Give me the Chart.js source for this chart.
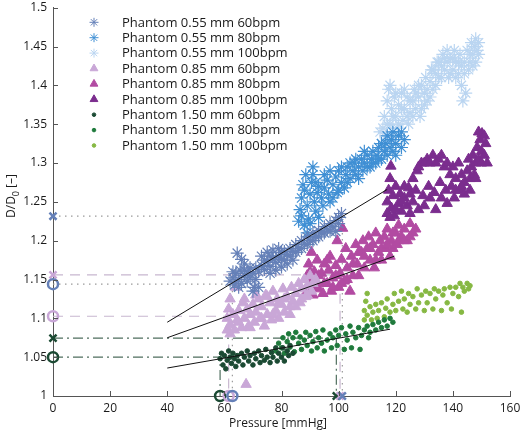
<!DOCTYPE html>
<html><head><meta charset="utf-8">
<script src="https://cdn.jsdelivr.net/npm/chart.js@4"></script>
<style>html,body{margin:0;padding:0;background:#fff}#wrap{width:520px;height:433px;position:relative}</style>
</head><body><div id="wrap"><canvas id="c" width="520" height="433"></canvas></div>
<script>
// ---------- DATA ----------
const seriesLabels = [
  'Phantom 0.55 mm 60bpm','Phantom 0.55 mm 80bpm','Phantom 0.55 mm 100bpm',
  'Phantom 0.85 mm 60bpm','Phantom 0.85 mm 80bpm','Phantom 0.85 mm 100bpm',
  'Phantom 1.50 mm 60bpm','Phantom 1.50 mm 80bpm','Phantom 1.50 mm 100bpm'
];
const xTicks = [0,20,40,60,80,100,120,140,160];
const yTicks = [1,1.05,1.1,1.15,1.2,1.25,1.3,1.35,1.4,1.45,1.5];

const s055_60 = [[62,1.148],[63,1.152],[63.5,1.143],[64,1.158],[65,1.150],[65.5,1.162],[66,1.145],[67,1.155],[68,1.16],[68,1.148],[69,1.152],[70,1.158],[70.5,1.14],[71,1.165],[72,1.16],[73,1.168],[74,1.163],[75,1.172],[76,1.167],[77,1.176],[78,1.172],[79,1.18],[80,1.176],[81,1.186],[82,1.182],[83,1.19],[84,1.186],[85,1.195],[86,1.19],[87,1.2],[88,1.196],[89,1.205],[90,1.2],[91,1.21],[92,1.205],[93,1.213],[94,1.21],[95,1.218],[96,1.214],[97,1.222],[98,1.218],[99,1.226],[100,1.23],[101,1.235],[99,1.212],[73,1.18],[75,1.185],[77,1.188],[79,1.19],[80,1.185],[76,1.158],[78,1.162],[80,1.166],[82,1.17],[84,1.175],[64.5,1.184],[66,1.176],[67,1.17],[70,1.135],[72,1.14],
  [63,1.16],[65,1.14],[67,1.162],[69,1.165],[71,1.15],[74,1.175],[76,1.18],[78,1.178],[81,1.175],[83,1.18],[85,1.185],[87,1.19],[89,1.195],[91,1.2],[93,1.205],[95,1.21],[97,1.212],[100,1.222]];
const s055_80 = [[86,1.225],[86.5,1.24],[87,1.255],[87,1.232],[88,1.22],[88,1.265],[89,1.245],[89.5,1.228],[90,1.26],[90.5,1.275],[91,1.285],[91.5,1.25],[92,1.238],[92.5,1.262],[93,1.27],[94,1.255],[94.5,1.245],[95,1.268],[96,1.278],[96.5,1.26],[97,1.25],[98,1.272],[99,1.282],[99.5,1.262],[100,1.29],[101,1.275],[102,1.268],[102.5,1.285],[103,1.295],[104,1.28],[105,1.29],[105.5,1.3],[106,1.285],[107,1.295],[108,1.305],[108.5,1.29],[109,1.3],[110,1.31],[111,1.295],[111.5,1.305],[112,1.315],[113,1.3],[113.5,1.31],[114,1.32],[115,1.305],[116,1.315],[116.5,1.325],[117,1.31],[118,1.32],[118.5,1.33],[119,1.315],[120,1.325],[121,1.335],[122,1.32],[123,1.33],
  [87.5,1.272],[88.5,1.285],[89,1.21],[90,1.222],[91,1.295],[92,1.275],[93,1.23],[95,1.285],[97,1.29],[98,1.255],[100,1.265],[101,1.295],[103,1.275],[104,1.3],[106,1.305],[107,1.28],[109,1.315],[110,1.295],[112,1.3],[114,1.305],[115,1.325],[117,1.335],[119,1.34],[120,1.31],[122,1.34]];
const s055_100 = [[115,1.325],[115.5,1.345],[116,1.36],[116.5,1.335],[117,1.38],[117.5,1.395],[118,1.35],[118.5,1.37],[119,1.33],[119.5,1.385],[120,1.36],[120.5,1.345],[121,1.375],[122,1.39],[122.5,1.355],[123,1.37],[124,1.385],[124.5,1.35],[125,1.365],[126,1.38],[126.5,1.395],[127,1.37],[128,1.385],[128.5,1.36],[129,1.4],[130,1.39],[130.5,1.41],[131,1.38],[132,1.405],[132.5,1.42],[133,1.395],[134,1.415],[134.5,1.43],[135,1.41],[136,1.425],[136.5,1.44],[137,1.42],[138,1.43],[138.5,1.41],[139,1.435],[140,1.42],[140.5,1.445],[141,1.43],[142,1.415],[142.5,1.44],[143,1.4],[143.5,1.38],[144,1.43],[144.5,1.39],[145,1.445],[145.5,1.42],[146,1.43],[146.5,1.455],[147,1.44],[147.5,1.45],[148,1.46],[148.5,1.445],[149,1.455],
  [114.5,1.34],[116,1.32],[117,1.35],[118,1.4],[119,1.36],[120,1.39],[121,1.35],[122,1.37],[123,1.395],[124,1.36],[125,1.38],[126,1.36],[127,1.39],[128,1.4],[129,1.37],[130,1.375],[131,1.395],[132,1.385],[133,1.42],[134,1.4],[135,1.43],[136,1.41],[137,1.435],[138,1.445],[139,1.415],[140,1.435],[141,1.41],[142,1.43],[143,1.425],[144,1.415],[146,1.44],[147,1.425],[149,1.44],[148,1.43]];
const s085_60 = [[61,1.085],[61,1.1],[61.5,1.112],[62,1.092],[62,1.125],[63,1.105],[63.5,1.085],[64,1.14],[64.5,1.098],[65,1.11],[66,1.088],[66.5,1.12],[67,1.1],[68,1.112],[68.5,1.09],[69,1.105],[70,1.118],[70.5,1.095],[71,1.108],[72,1.125],[72.5,1.1],[73,1.115],[74,1.09],[74.5,1.13],[75,1.105],[76,1.12],[76.5,1.098],[77,1.135],[78,1.11],[78.5,1.125],[79,1.1],[80,1.118],[80.5,1.138],[81,1.108],[82,1.128],[83,1.115],[83.5,1.14],[84,1.122],[85,1.132],[86,1.145],[86.5,1.12],[87,1.138],[88,1.15],[88.5,1.128],[89,1.142],[90,1.155],[90.5,1.135],[67.6,1.015],
  [62,1.08],[65,1.095],[67,1.125],[69,1.088],[71,1.13],[73,1.1],[75,1.128],[77,1.105],[79,1.12],[81,1.125],[83,1.105],[85,1.115],[87,1.125],[89,1.13],[91,1.145],[92,1.15]];
const s085_80 = [[89,1.135],[89,1.155],[89.5,1.17],[90,1.145],[90.5,1.185],[91,1.13],[91.5,1.16],[92,1.148],[92.5,1.175],[93,1.138],[94,1.158],[94.5,1.132],[95,1.17],[96,1.145],[96.5,1.162],[97,1.18],[97.5,1.135],[98,1.152],[99,1.168],[99.5,1.2],[100,1.14],[100.5,1.158],[101,1.176],[101.4,1.216],[102,1.148],[102.5,1.19],[103,1.165],[104,1.135],[104.5,1.18],[105,1.155],[106,1.195],[106.5,1.17],[107,1.155],[108,1.185],[108.5,1.2],[109,1.165],[110,1.19],[110.5,1.205],[111,1.175],[112,1.195],[112.5,1.165],[113,1.21],[114,1.185],[114.5,1.2],[115,1.175],[116,1.205],[116.5,1.19],[117,1.215],[118,1.18],[118.5,1.2],[119,1.19],[120,1.21],[120.5,1.195],[121,1.22],[122,1.205],[123,1.215],[124,1.2],[125,1.222],[126,1.21],[127,1.215],
  [90,1.16],[92,1.14],[93,1.155],[95,1.145],[96,1.175],[98,1.14],[99,1.155],[101,1.145],[103,1.15],[105,1.17],[107,1.185],[109,1.18],[111,1.19],[113,1.175],[115,1.19],[117,1.195],[119,1.21],[121,1.2],[123,1.2],[125,1.205]];
const s085_100 = [[117,1.235],[117,1.25],[117.5,1.265],[118,1.28],[118.3,1.296],[118.5,1.242],[119,1.258],[119.5,1.232],[120,1.27],[121,1.248],[121.5,1.26],[122,1.238],[123,1.255],[124,1.245],[124.5,1.268],[125,1.235],[126,1.25],[127,1.265],[127.5,1.29],[128,1.24],[129,1.3],[129.5,1.258],[130,1.245],[131,1.305],[131.5,1.27],[132,1.255],[133,1.31],[133.5,1.262],[134,1.24],[135,1.305],[135.5,1.275],[136,1.255],[137,1.295],[137.5,1.265],[138,1.248],[139,1.285],[139.5,1.27],[140,1.295],[140.5,1.255],[141,1.28],[142,1.3],[142.5,1.265],[143,1.285],[144,1.275],[145,1.29],[145.5,1.305],[146,1.28],[146.5,1.295],[147,1.31],[147.5,1.285],[148,1.3],[148.5,1.32],[149,1.305],[149.5,1.33],[150,1.315],[150.2,1.338],[151,1.31],[151.5,1.325],[152,1.3],
  [118,1.23],[120,1.24],[122,1.25],[123,1.27],[125,1.26],[126,1.28],[128,1.295],[130,1.3],[132,1.3],[134,1.3],[136,1.31],[138,1.3],[141,1.265],[143,1.27],[144,1.26],[146,1.265],[148,1.28],[150,1.3],[149,1.34],[151,1.335]];
const s150_60 = [[58.5,1.048],[59,1.055],[59.5,1.04],[60,1.052],[60.5,1.035],[61,1.046],[61.5,1.058],[62,1.05],[62.5,1.042],[63,1.055],[63.5,1.048],[64,1.038],[64.5,1.052],[65,1.045],[66,1.055],[66.5,1.04],[67,1.05],[68,1.058],[68.5,1.045],[69,1.052],[70,1.04],[70.5,1.055],[71,1.048],[72,1.058],[72.5,1.043],[73,1.052],[74,1.046],[74.5,1.06],[75,1.05],[76,1.043],[76.5,1.056],[77,1.05],[78,1.062],[78.5,1.045],[79,1.055],[80,1.05],[80.5,1.062],[81,1.045],[82,1.058],[82.5,1.052],[83,1.065],[84,1.055]];
const s150_80 = [[78,1.058],[79,1.068],[80,1.062],[80.5,1.075],[81,1.055],[82,1.07],[82.5,1.08],[83,1.063],[84,1.075],[84.5,1.057],[85,1.082],[86,1.068],[86.5,1.076],[87,1.06],[88,1.072],[88.5,1.082],[89,1.065],[90,1.078],[90.5,1.058],[91,1.07],[92,1.083],[92.5,1.062],[93,1.075],[94,1.068],[94.5,1.085],[95,1.058],[96,1.072],[97,1.08],[97.5,1.062],[98,1.075],[99,1.085],[99.5,1.065],[100,1.078],[101,1.088],[102,1.06],[102.5,1.08],[103,1.072],[104,1.09],[104.5,1.062],[105,1.082],[106,1.075],[107,1.088],[107.5,1.06],[108,1.078],[109,1.085],[110,1.09],[110.5,1.075],[111,1.082],[112,1.092],[113,1.085],[114,1.095],[115,1.088],[116,1.098],[117,1.09],[118,1.1],[119,1.095]];
const s150_100 = [[109,1.098],[109,1.11],[109.5,1.122],[110,1.132],[110,1.104],[111,1.115],[111.5,1.098],[112,1.108],[113,1.118],[113.5,1.1],[114,1.11],[115,1.12],[116,1.102],[116.5,1.113],[117,1.125],[118,1.108],[119,1.118],[119.5,1.132],[120,1.11],[121,1.122],[122,1.135],[122.5,1.112],[123,1.125],[124,1.108],[124.5,1.132],[125,1.118],[126,1.128],[127,1.112],[127.5,1.138],[128,1.12],[129,1.13],[130,1.11],[130.5,1.135],[131,1.12],[132,1.132],[133,1.112],[133.5,1.138],[134,1.125],[135,1.135],[136,1.11],[136.5,1.13],[137,1.138],[138,1.12],[139,1.14],[139.5,1.112],[140,1.132],[141,1.14],[142,1.128],[142.5,1.145],[143,1.108],[143.5,1.14],[144,1.135],[145,1.145],[145.5,1.138],[146,1.142]];

// reference markers: onset (O) and end (X) for 0.55, 0.85, 1.50 mm
const onsetP = [62.8, 61.5, 58.5];
const onsetD = [1.144, 1.1027, 1.050];
const endP   = [101.3, 100.5, 99.2];
const endD   = [1.2315, 1.156, 1.0746];
// regression lines
const fitP = [[40,117],[40,119.5],[40,118]];
const fitD = [[1.095,1.266],[1.075,1.18],[1.036,1.086]];

// ---------- STYLES ----------
const seriesData = [s055_60,s055_80,s055_100,s085_60,s085_80,s085_100,s150_60,s150_80,s150_100];
const seriesColors = ['#6580b8','#3f8fd4','#bad5f1','#c9a7d7','#b24ba2','#7b2d8e','#1b4a33','#1f7a3c','#86b843'];
const seriesStyle = ['star','star','star','triangle','triangle','triangle','circle','circle','circle'];
const refColors = ['#6580b8','#c9a7d7','#1b4a33'];
const refLineColors = ['#9a9a9a','#c8b7d0','#4f6e5e'];
const refDash = [[1.5,4.5],[10,7],[10,4,2,4]];
const font = "'Open Sans', 'DejaVu Sans', sans-serif";

const pts = a => a.map(p => ({x:p[0], y:p[1]}));
const datasets = [];
fitP.forEach((fp,i)=>{
  datasets.push({data:[{x:fp[0],y:fitD[i][0]},{x:fp[1],y:fitD[i][1]}], showLine:true, borderColor:'#111', borderWidth:1, pointRadius:0, fill:false});
});
for (let i=0;i<3;i++){
  datasets.push({data:[{x:0,y:endD[i]},{x:endP[i],y:1}], pointStyle:'crossRot', pointRadius:5, borderWidth:2.5, borderColor:refColors[i], backgroundColor:refColors[i], showLine:false, clip:false});
  datasets.push({data:[{x:0,y:onsetD[i]},{x:onsetP[i],y:1}], pointStyle:'circle', pointRadius:5, borderWidth:2.5, borderColor:refColors[i], backgroundColor:'rgba(255,255,255,0)', showLine:false, clip:false});
}
seriesData.forEach((d,i)=>{
  const st = seriesStyle[i];
  datasets.push({data:pts(d), pointStyle:st,
    pointRadius: st==='star'?6.5:(st==='triangle'?6:2.3),
    borderWidth: st==='star'?1.2:1,
    borderColor: seriesColors[i], backgroundColor: seriesColors[i], showLine:false});
});
for (let i=0;i<3;i++){
  datasets.push({data:[{x:0,y:endD[i]},{x:endP[i],y:endD[i]},{x:endP[i],y:1}], showLine:true, borderColor:refLineColors[i], borderWidth:1.2, borderDash:refDash[i], pointRadius:0, fill:false});
  datasets.push({data:[{x:0,y:onsetD[i]},{x:onsetP[i],y:onsetD[i]},{x:onsetP[i],y:1}], showLine:true, borderColor:refLineColors[i], borderWidth:1.2, borderDash:refDash[i], pointRadius:0, fill:false});
}

const decor = {
  id:'decor',
  afterDraw(chart){
    const {ctx, scales:{x,y}, chartArea:a} = chart;
    ctx.save();
    ctx.strokeStyle='#555'; ctx.lineWidth=1;
    ctx.beginPath();
    xTicks.forEach(v=>{const px=Math.round(x.getPixelForValue(v))+0.5; ctx.moveTo(px,a.bottom); ctx.lineTo(px,a.bottom-5);});
    yTicks.forEach(v=>{const py=Math.round(y.getPixelForValue(v))+0.5; ctx.moveTo(a.left,py); ctx.lineTo(a.left+5,py);});
    ctx.stroke();
    ctx.font = "13px " + font; ctx.textBaseline='middle'; ctx.textAlign='left';
    seriesLabels.forEach((lab,i)=>{
      const yy = 22.3 + i*15.4;
      const st = seriesStyle[i];
      ctx.strokeStyle = seriesColors[i]; ctx.fillStyle = seriesColors[i];
      Chart.helpers.drawPoint(ctx, {pointStyle:st, radius: st==='star'?4.5:(st==='triangle'?4.5:1.8), borderWidth: st==='star'?1.2:1, rotation:0}, 94, yy);
      ctx.fillStyle='#1a1a1a';
      ctx.fillText(lab, 122, yy+0.5);
    });
    ctx.font = "12px " + font; ctx.fillStyle='#1a1a1a';
    ctx.textAlign='center'; ctx.textBaseline='middle';
    ctx.fillText('Pressure [mmHg]', 278, 424);
    ctx.save();
    ctx.translate(12, 196); ctx.rotate(-Math.PI/2);
    ctx.textAlign='left';
    const p1='D/D', p2='0', p3=' [–]';
    ctx.font = "12px " + font; const w1=ctx.measureText(p1).width, w3=ctx.measureText(p3).width;
    ctx.font = "9px " + font; const w2=ctx.measureText(p2).width;
    let sx = -(w1+w2+w3)/2;
    ctx.font = "12px " + font; ctx.fillText(p1, sx, 0); sx+=w1;
    ctx.font = "9px " + font; ctx.fillText(p2, sx, 4); sx+=w2;
    ctx.font = "12px " + font; ctx.fillText(p3, sx, 0);
    ctx.restore();
    ctx.restore();
  }
};

new Chart(document.getElementById('c'), {
  type:'scatter',
  data:{datasets},
  options:{
    responsive:false, animation:false, events:[],
    layout:{padding:{top:5,right:10,left:0,bottom:0}},
    plugins:{legend:{display:false}, tooltip:{enabled:false}},
    scales:{
      x:{type:'linear', min:0, max:160, afterBuildTicks:s=>{s.ticks=xTicks.map(v=>({value:v}));},
        ticks:{font:{size:12,family:font}, color:'#1a1a1a', padding:5, maxRotation:0},
        grid:{drawOnChartArea:false, drawTicks:false}, border:{display:true,color:'#555',width:1},
        afterFit:s=>{s.height=37; s.paddingLeft=0; s.paddingRight=0;}},
      y:{type:'linear', min:1, max:1.5, afterBuildTicks:s=>{s.ticks=yTicks.map(v=>({value:v}));},
        ticks:{font:{size:12,family:font}, color:'#1a1a1a', padding:6, callback:v=>String(parseFloat(v.toFixed(2)))},
        grid:{drawOnChartArea:false, drawTicks:false}, border:{display:true,color:'#555',width:1},
        afterFit:s=>{s.width=53; s.paddingTop=0; s.paddingBottom=0;}}
    }
  },
  plugins:[decor]
});
</script></body></html>
